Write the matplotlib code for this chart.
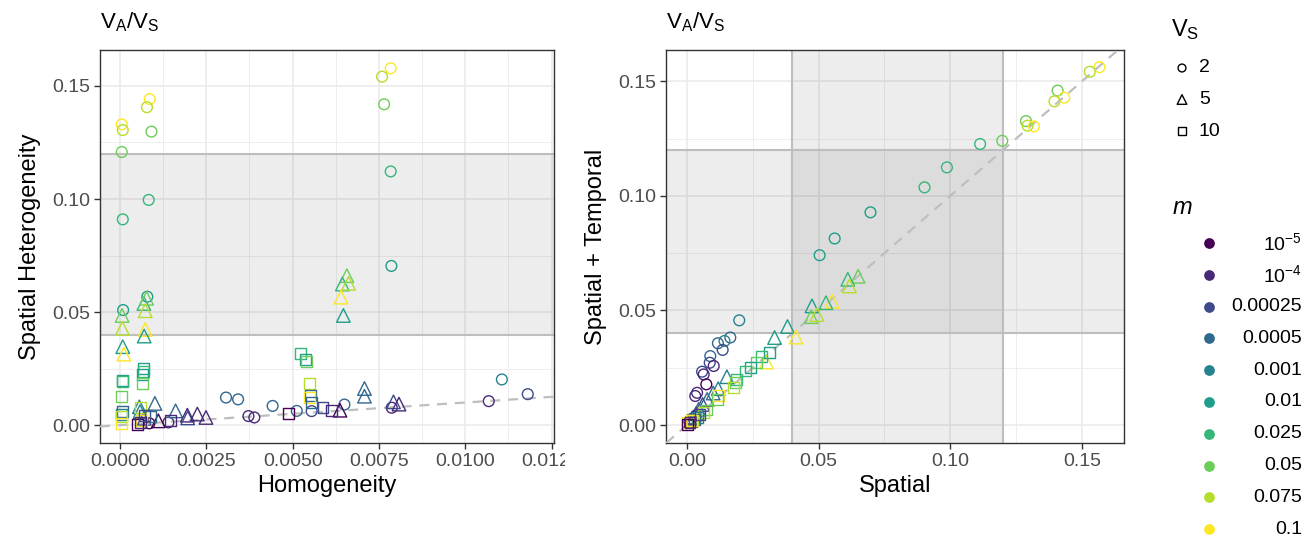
import matplotlib
matplotlib.use('Agg')
import matplotlib.pyplot as plt
from matplotlib.transforms import Bbox

plt.rcParams['font.family'] = ['Liberation Sans', 'DejaVu Sans']
plt.rcParams['mathtext.fontset'] = 'custom'
plt.rcParams['mathtext.rm'] = 'Liberation Sans'
plt.rcParams['mathtext.it'] = 'Liberation Sans:italic'

# colour legend (m) and shape legend (V_S)
m_labels = [r'$\mathregular{10^{-5}}$', r'$\mathregular{10^{-4}}$', '0.00025', '0.0005',
            '0.001', '0.01', '0.025', '0.05', '0.075', '0.1']
m_colors = ['#440154', '#482878', '#3E4A89', '#31688E', '#26828E',
            '#1F9E89', '#35B779', '#6DCD59', '#B4DE2C', '#FDE725']
vs_labels = ['2', '5', '10']
vs_markers = ['o', '^', 's']

band_lo, band_hi = 0.04, 0.12

# left panel: (m index, Homogeneity, Spatial Heterogeneity)
left_circles = [
    (9, 0.00784, 0.1578), (8, 0.00759, 0.1541), (7, 0.00765, 0.1419),
    (9, 0.00086, 0.1442), (8, 0.00078, 0.1406), (9, 0.00005, 0.1330),
    (8, 0.00008, 0.1305), (7, 0.00091, 0.1298), (7, 0.00005, 0.1208),
    (6, 0.00083, 0.0996), (6, 0.00008, 0.0910), (6, 0.00784, 0.1122),
    (5, 0.00786, 0.0704), (5, 0.00079, 0.0568), (5, 0.00009, 0.0509),
    (4, 0.01106, 0.0202), (2, 0.01181, 0.0137), (1, 0.01068, 0.0106),
    (1, 0.00787, 0.0077), (3, 0.00650, 0.0091), (2, 0.00555, 0.0062),
    (3, 0.00512, 0.0063), (3, 0.00442, 0.0085), (3, 0.00307, 0.0122),
    (3, 0.00342, 0.0114), (1, 0.00372, 0.0040), (1, 0.00389, 0.0034),
    (1, 0.00140, 0.0012), (0, 0.00085, 0.0008),
]
left_triangles = [
    (7, 0.00657, 0.0661), (6, 0.00644, 0.0624), (8, 0.00662, 0.0627),
    (9, 0.00640, 0.0566), (5, 0.00647, 0.0485), (7, 0.00006, 0.0485),
    (8, 0.00007, 0.0428), (5, 0.00008, 0.0347), (9, 0.00011, 0.0314),
    (6, 0.00069, 0.0538), (7, 0.00077, 0.0561), (8, 0.00073, 0.0506),
    (9, 0.00073, 0.0423), (5, 0.00070, 0.0394), (3, 0.00708, 0.0162),
    (3, 0.00708, 0.0128), (2, 0.00792, 0.0103), (1, 0.00808, 0.0093),
    (0, 0.00637, 0.0066), (3, 0.00101, 0.0096), (3, 0.00161, 0.0063),
    (1, 0.00195, 0.0044), (2, 0.00196, 0.0032), (1, 0.00224, 0.0049),
    (1, 0.00249, 0.0034), (0, 0.00111, 0.0019), (4, 0.00056, 0.0081),
    (4, 0.00058, 0.0060), (2, 0.00070, 0.0030),
]
left_squares = [
    (6, 0.00522, 0.0317), (5, 0.00538, 0.0291), (7, 0.00539, 0.0280),
    (8, 0.00550, 0.0184), (3, 0.00552, 0.0133), (9, 0.00550, 0.0122),
    (3, 0.00554, 0.0099), (2, 0.00588, 0.0078), (1, 0.00612, 0.0066),
    (0, 0.00488, 0.0052), (5, 0.00006, 0.0196), (6, 0.00006, 0.0193),
    (7, 0.00003, 0.0128), (3, 0.00006, 0.0059), (4, 0.00005, 0.0045),
    (8, 0.00004, 0.0037), (9, 0.00005, 0.0008), (5, 0.00068, 0.0251),
    (6, 0.00068, 0.0236), (5, 0.00066, 0.0222), (7, 0.00064, 0.0184),
    (8, 0.00058, 0.0077), (9, 0.00061, 0.0022), (0, 0.00051, 0.0004),
    (2, 0.00072, 0.0044), (3, 0.00087, 0.0037), (1, 0.00145, 0.0022),
    (1, 0.00060, 0.0010),
]

# right panel: (m index, Spatial, Spatial + Temporal)
right_circles = [
    (9, 0.1566, 0.1561), (8, 0.1529, 0.1541), (7, 0.1407, 0.1459),
    (9, 0.1432, 0.1428), (8, 0.1395, 0.1412), (7, 0.1287, 0.1326),
    (8, 0.1293, 0.1306), (9, 0.1317, 0.1303), (7, 0.1197, 0.1240),
    (6, 0.1113, 0.1226), (6, 0.0987, 0.1124), (6, 0.0902, 0.1037),
    (5, 0.0697, 0.0928), (5, 0.0561, 0.0814), (5, 0.0504, 0.0741),
    (4, 0.0199, 0.0457), (3, 0.0165, 0.0382), (4, 0.0143, 0.0367),
    (3, 0.0118, 0.0357), (2, 0.0136, 0.0328), (3, 0.0089, 0.0301),
    (2, 0.0087, 0.0272), (1, 0.0102, 0.0258), (2, 0.0058, 0.0233),
    (1, 0.0064, 0.0221), (0, 0.0074, 0.0178), (1, 0.0039, 0.0141),
    (1, 0.0032, 0.0127), (0, 0.0010, 0.0015), (1, 0.0015, 0.0025),
]
right_triangles = [
    (7, 0.0650, 0.0649), (6, 0.0611, 0.0636), (8, 0.0617, 0.0607),
    (9, 0.0551, 0.0540), (6, 0.0528, 0.0534), (5, 0.0475, 0.0520),
    (7, 0.0472, 0.0473), (8, 0.0494, 0.0482), (5, 0.0382, 0.0430),
    (5, 0.0333, 0.0382), (9, 0.0414, 0.0384), (9, 0.0302, 0.0275),
    (4, 0.0152, 0.0211), (4, 0.0119, 0.0159), (3, 0.0100, 0.0140),
    (3, 0.0077, 0.0112), (2, 0.0060, 0.0090), (3, 0.0045, 0.0069),
    (2, 0.0035, 0.0050), (1, 0.0025, 0.0035), (0, 0.0015, 0.0020),
    (1, 0.0020, 0.0030),
]
right_squares = [
    (5, 0.0312, 0.0316), (6, 0.0284, 0.0301), (7, 0.0265, 0.0275),
    (5, 0.0240, 0.0251), (6, 0.0223, 0.0236), (6, 0.0190, 0.0200),
    (7, 0.0183, 0.0185), (8, 0.0177, 0.0163), (9, 0.0121, 0.0130),
    (7, 0.0117, 0.0112), (7, 0.0074, 0.0066), (8, 0.0064, 0.0054),
    (3, 0.0030, 0.0025), (4, 0.0040, 0.0035), (8, 0.0020, 0.0020),
    (9, 0.0004, 0.0010), (9, 0.0016, 0.0020), (0, 0.0002, 0.0004),
    (2, 0.0050, 0.0045), (1, 0.0012, 0.0012),
]

GRID = '#EBEBEB'
REF = '#BEBEBE'
DARK = '#333333'
TICKTXT = '#4D4D4D'


def draw_points(ax, pts, marker, size):
    xs = [p[1] for p in pts]
    ys = [p[2] for p in pts]
    cs = [m_colors[p[0]] for p in pts]
    ax.scatter(xs, ys, s=size, marker=marker, facecolors='none',
               edgecolors=cs, linewidths=1.0, zorder=5, clip_on=False)


def style_panel(ax, xlim, ylim, xticks, xminor, xfmt, yticks, yminor):
    ax.set_xlim(*xlim)
    ax.set_ylim(*ylim)
    ax.set_xticks(xticks)
    ax.set_xticklabels([xfmt % v for v in xticks])
    ax.set_xticks(xminor, minor=True)
    ax.set_yticks(yticks)
    ax.set_yticklabels(['%.2f' % v for v in yticks])
    ax.set_yticks(yminor, minor=True)
    ax.grid(which='major', color=GRID, lw=1.2, zorder=0)
    ax.grid(which='minor', color=GRID, lw=0.6, zorder=0)
    ax.set_axisbelow(True)
    ax.tick_params(which='major', length=4, width=1.0, color=DARK,
                   labelsize=14, labelcolor=TICKTXT, pad=3)
    ax.tick_params(which='minor', length=0)
    for sp in ax.spines.values():
        sp.set_color(DARK)
        sp.set_linewidth(1.0)
    ax.axline((0, 0), slope=1, color=REF, lw=1.6, ls=(0, (4.5, 3.5)), zorder=3)


fig = plt.figure(figsize=(13.14, 5.45), dpi=100)

# left panel
ax1 = fig.add_axes([100 / 1314, 102 / 545, 454 / 1314, 393 / 545])
style_panel(ax1, (-0.00058, 0.01257), (-0.0079, 0.1659),
            [0, 0.0025, 0.005, 0.0075, 0.01, 0.0125],
            [0.00125, 0.00375, 0.00625, 0.00875, 0.01125], '%.4f',
            [0, 0.05, 0.10, 0.15], [0.025, 0.075, 0.125])
ax1.axhspan(band_lo, band_hi, color='black', alpha=0.07, lw=0, zorder=1)
for v in (band_lo, band_hi):
    ax1.axhline(v, color=REF, lw=1.5, zorder=2)
draw_points(ax1, left_circles, 'o', 60)
draw_points(ax1, left_triangles, '^', 95)
draw_points(ax1, left_squares, 's', 62)
ax1.set_xlabel('Homogeneity', fontsize=17, labelpad=4)
ax1.set_ylabel('Spatial Heterogeneity', fontsize=17, labelpad=8)
lab = ax1.xaxis.get_major_ticks()[-1].label1
lab.set_clip_box(Bbox.from_extents(0, 0, 565, 545))
lab.set_clip_on(True)

# right panel
ax2 = fig.add_axes([666 / 1314, 102 / 545, 458 / 1314, 393 / 545])
style_panel(ax2, (-0.0079, 0.1659), (-0.0078, 0.1636),
            [0, 0.05, 0.10, 0.15], [0.025, 0.075, 0.125], '%.2f',
            [0, 0.05, 0.10, 0.15], [0.025, 0.075, 0.125])
ax2.axhspan(band_lo, band_hi, color='black', alpha=0.07, lw=0, zorder=1)
ax2.axvspan(band_lo, band_hi, color='black', alpha=0.07, lw=0, zorder=1)
for v in (band_lo, band_hi):
    ax2.axhline(v, color=REF, lw=1.5, zorder=2)
    ax2.axvline(v, color=REF, lw=1.5, zorder=2)
draw_points(ax2, right_circles, 'o', 60)
draw_points(ax2, right_triangles, '^', 95)
draw_points(ax2, right_squares, 's', 62)
ax2.set_xlabel('Spatial', fontsize=17, labelpad=4)
ax2.set_ylabel('Spatial + Temporal', fontsize=17, labelpad=8)

title = r'V$_\mathregular{A}$/V$_\mathregular{S}$'
fig.text(100 / 1314, 1 - 22 / 545, title, fontsize=16, va='center', ha='left')
fig.text(666 / 1314, 1 - 22 / 545, title, fontsize=16, va='center', ha='left')

# legends, drawn in a pixel-coordinate overlay
lax = fig.add_axes([0, 0, 1, 1])
lax.set_xlim(0, 1314)
lax.set_ylim(545, 0)
lax.axis('off')

lax.text(1171, 30, r'V$_\mathregular{S}$', fontsize=17, va='center', ha='left')
key_sizes = [32, 48, 34]
for i, (lbl, mk) in enumerate(zip(vs_labels, vs_markers)):
    yy = 68 + i * 31.5
    lax.scatter([1182], [yy], s=key_sizes[i], marker=mk, facecolors='none',
                edgecolors='black', linewidths=1.0)
    lax.text(1199, yy, lbl, fontsize=14, va='center', ha='left')

lax.text(1173, 208, 'm', fontsize=17, style='italic', va='center', ha='left')
for i, (lbl, col) in enumerate(zip(m_labels, m_colors)):
    yy = 243 + i * 31.8
    lax.scatter([1209], [yy], s=45, marker='o', color=col)
    lax.text(1302, yy, lbl, fontsize=14, va='center', ha='right')

fig.savefig('out.png', dpi=100)
